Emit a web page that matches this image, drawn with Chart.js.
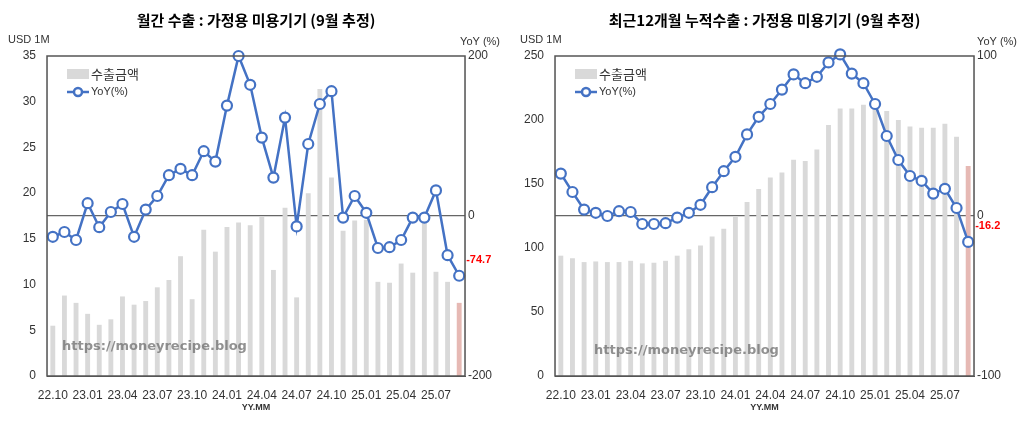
<!DOCTYPE html><html><head><meta charset="utf-8">
<script src="https://cdn.jsdelivr.net/npm/chart.js@4"></script>
<style>body{margin:0;background:#fff;width:1024px;height:435px;position:relative;overflow:hidden}
.w{position:absolute;top:0;width:512px;height:435px}</style></head><body>
<div class="w" style="left:0"><canvas id="c1" width="512" height="435"></canvas></div>
<div class="w" style="left:512px"><canvas id="c2" width="512" height="435"></canvas></div>
<script>
const months=["22.10","22.11","22.12","23.01","23.02","23.03","23.04","23.05","23.06","23.07","23.08","23.09","23.10","23.11","23.12","24.01","24.02","24.03","24.04","24.05","24.06","24.07","24.08","24.09","24.10","24.11","24.12","25.01","25.02","25.03","25.04","25.05","25.06","25.07","25.08","25.09"];
const monthlyExport=[5.5,8.8,8.0,6.8,5.6,6.2,8.7,7.8,8.2,9.7,10.5,13.1,8.4,16.0,13.6,16.3,16.8,16.5,17.4,11.6,18.4,8.6,20.0,31.4,21.7,15.9,17.0,17.1,10.3,10.2,12.3,11.3,17.0,11.4,10.3,8.0];
const monthlyYoY=[-26,-20,-30,16,-14,5,15,-26,8,25,51,59,51,81,68,138,200,164,98,48,123,-13,90,140,156,-2,25,4,-40,-39,-30,-2,-2,32,-49,-74.7];
const cumExport=[94,92,89,89.5,89,89,90,88,88.5,90,94,99,102,109,115,125,136,146,155,159,169,168,177,196,209,209,212,210,207,200,195,194,194,197,187,164];
const cumYoY=[26.5,15,4,2,0,3,2.5,-5,-5,-4.5,-1,2,7,18,28,37,51,62,70,79,88.5,83,87,96,101,89,83,70,50,35,25,22,14,17,5,-16.2];

function make(id,cfg){
 const n=months.length;
 const ext={id:'ext',afterDraw(ch){
  const c=ch.ctx,a=ch.chartArea;c.save();
  c.strokeStyle='#555';c.lineWidth=1.5;c.strokeRect(a.left,a.top,a.right-a.left,a.bottom-a.top);
  c.fillStyle='#000';c.font='bold 15px "Noto Sans CJK KR"';c.textAlign='center';c.textBaseline='middle';
  c.fillText(cfg.title,(a.left+a.right)/2,20);
  c.font='11px "Liberation Sans"';c.fillStyle='#333';
  c.textAlign='left';c.fillText('USD 1M',cfg.unitX,40);
  c.textAlign='right';c.fillText('YoY (%)',cfg.yoyX,42);
  const lx=a.left+20,ly=a.top+18;
  c.fillStyle='#d9d9d9';c.fillRect(lx,ly-5,22,10);
  c.fillStyle='#333';c.textAlign='left';c.font='13px "Noto Sans CJK KR"';c.fillText('수출금액',lx+24,ly);
  c.strokeStyle='#4472c4';c.lineWidth=2.5;c.beginPath();c.moveTo(lx,ly+18);c.lineTo(lx+22,ly+18);c.stroke();
  c.fillStyle='#fff';c.beginPath();c.arc(lx+11,ly+18,4,0,7);c.fill();c.stroke();
  c.fillStyle='#333';c.font='11px "Liberation Sans"';c.fillText('YoY(%)',lx+24,ly+18);
  c.fillStyle='rgba(110,110,110,0.75)';c.font='bold 13px "DejaVu Sans"';c.fillText('https://moneyrecipe.blog',cfg.wmX,cfg.wmY);
  const m=ch.getDatasetMeta(1).data[n-1];
  c.fillStyle='#ff0000';c.font='bold 11px "Liberation Sans"';c.fillText(cfg.yoy[n-1].toFixed(1),m.x+7,m.y-16);
  c.restore();}};
 new Chart(document.getElementById(id),{data:{labels:months,datasets:[
  {type:'line',data:cfg.yoy,yAxisID:'y2',borderColor:'#4472c4',borderWidth:2.5,pointRadius:5,pointBorderWidth:2.2,pointBackgroundColor:'#fff',pointBorderColor:'#4472c4',order:0,clip:false},
  {type:'bar',data:cfg.exp,yAxisID:'y',backgroundColor:cfg.exp.map((v,i)=>i==n-1?'#e6b9b4':'#d9d9d9'),barPercentage:0.42,categoryPercentage:1,order:1}
 ].reverse()},
 options:{responsive:false,animation:false,layout:{padding:{top:56,bottom:18}},
  plugins:{legend:{display:false},tooltip:{enabled:false}},
  scales:{
   x:{grid:{display:false,drawTicks:true},border:{color:'#555'},ticks:{autoSkip:false,maxRotation:0,color:'#333',font:{size:12,family:'Liberation Sans'},padding:4,callback:(v,i)=>i%3==0?months[i]:''},
      title:{display:true,text:'YY.MM',font:{size:9,weight:'bold',family:'Liberation Sans'},color:'#333',padding:{top:2}},afterFit(s){s.height=41}},
   y:{position:'left',min:0,max:cfg.ymax,ticks:{stepSize:cfg.ystep,color:'#333',font:{size:12,family:'Liberation Sans'}},grid:{display:false},afterFit(s){s.width=cfg.lw}},
   y2:{position:'right',min:cfg.y2min,max:cfg.y2max,ticks:{stepSize:cfg.y2max,color:'#333',font:{size:12,family:'Liberation Sans'}},
      grid:{drawOnChartArea:true,color:c=>c.tick&&c.tick.value===0?'#666':'rgba(0,0,0,0)',lineWidth:1.2,drawTicks:false},afterFit(s){s.width=cfg.rw}}
  }},plugins:[ext]});
}
make('c1',{title:'월간 수출 : 가정용 미용기기 (9월 추정)',exp:monthlyExport,yoy:monthlyYoY,ymax:35,ystep:5,y2min:-200,y2max:200,lw:47,rw:47,unitX:8,yoyX:500,wmX:62,wmY:347});
make('c2',{title:'최근12개월 누적수출 : 가정용 미용기기 (9월 추정)',exp:cumExport,yoy:cumYoY,ymax:250,ystep:50,y2min:-100,y2max:100,lw:43,rw:50,unitX:8,yoyX:505,wmX:82,wmY:351});
</script></body></html>
